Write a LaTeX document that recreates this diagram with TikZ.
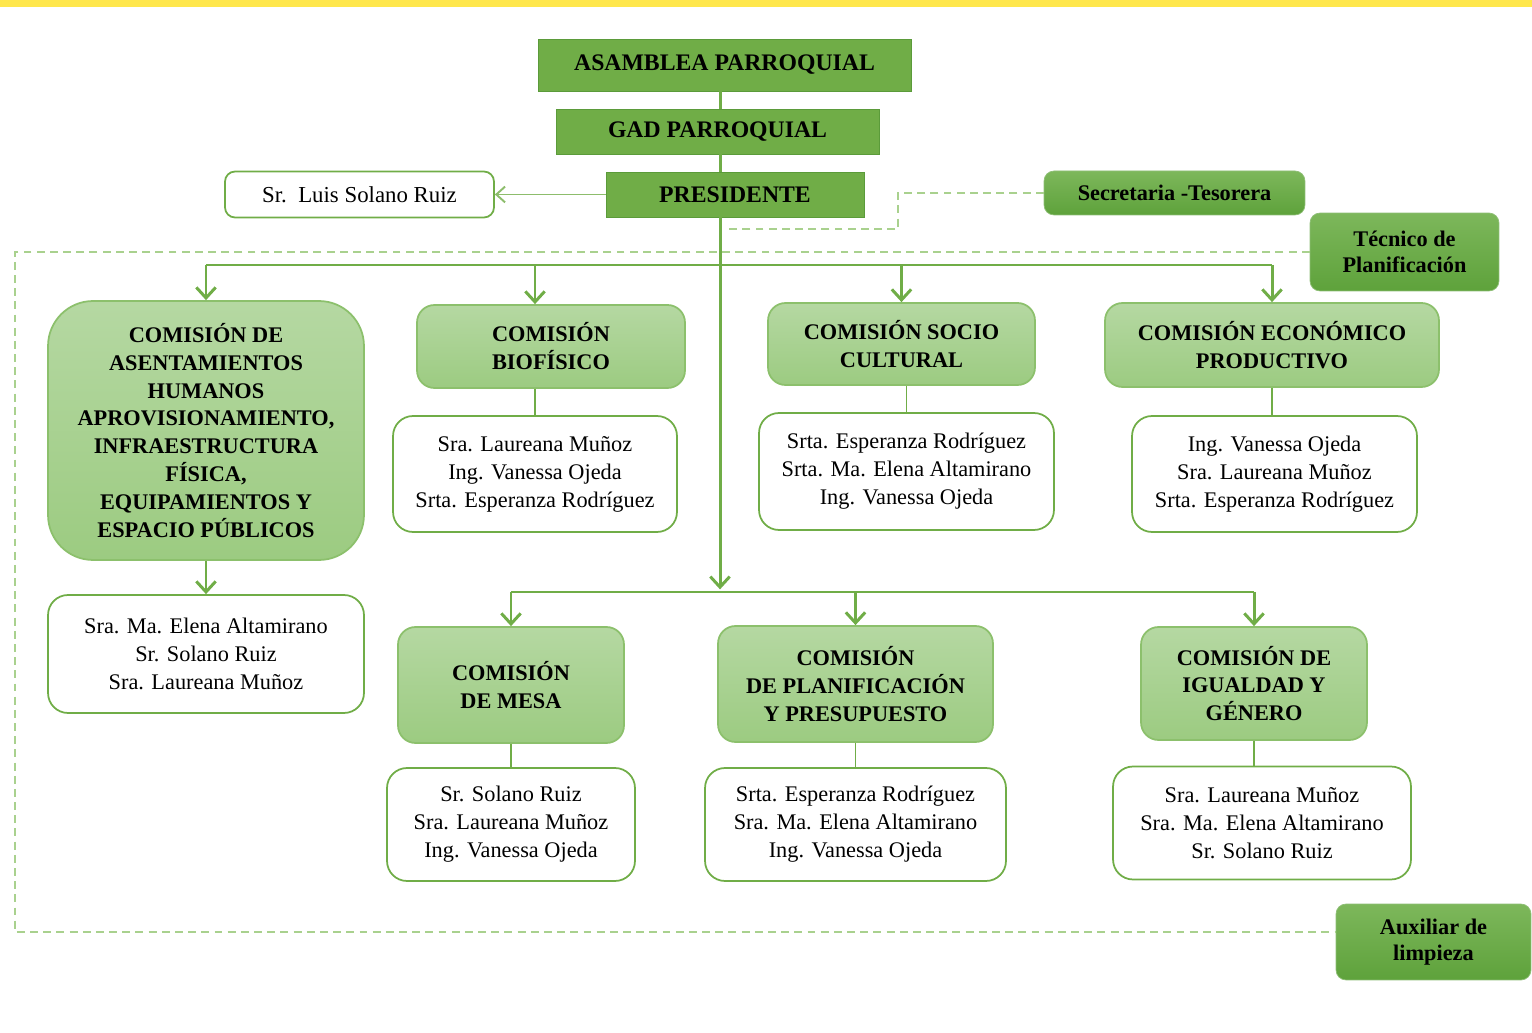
\documentclass[tikz,border=0pt]{standalone}
\usepackage{fontspec}
\setmainfont{Liberation Serif}
\usetikzlibrary{arrows.meta,positioning}
\definecolor{band}{HTML}{FFE74C}
\definecolor{leaf}{HTML}{70AD47}
\definecolor{leafdark}{HTML}{5B9B3A}
\definecolor{leaflight}{HTML}{A9D18E}
\definecolor{staffA}{HTML}{7DB75B}
\definecolor{staffB}{HTML}{5EA23B}
\definecolor{comA}{HTML}{B5D8A2}
\definecolor{comB}{HTML}{9CCB81}
\definecolor{comline}{HTML}{8CC06C}

\begin{document}
\begin{tikzpicture}[x=0.02cm, y=-0.02cm,
    txt/.style={align=center, inner sep=0pt, font=\fontsize{12.7}{15.9}\selectfont},
    headbox/.style={txt, draw=leafdark, fill=leaf, font=\fontsize{13.5}{16}\selectfont\bfseries},
    staffbox/.style={txt, rounded corners=0.2cm, top color=staffA, bottom color=staffB, draw=staffB!70, font=\fontsize{12.7}{14.5}\selectfont\bfseries},
    combox/.style={txt, rounded corners=0.35cm, top color=comA, bottom color=comB, draw=comline, line width=1pt, font=\fontsize{12.7}{15.9}\selectfont\bfseries},
    membox/.style={txt, rounded corners=0.4cm, fill=white, draw=leaf, line width=1pt},
    link/.style={draw=leaf, line width=1.7pt},
    thinlink/.style={draw=leaf, line width=1.1pt},
    arrowin/.style={-{Straight Barb[length=6pt,width=11pt]}},
    dashline/.style={draw=leaflight, line width=1.1pt, dash pattern=on 4.5pt off 3pt}]
    \useasboundingbox (0,0) rectangle (1532,1033);
    \fill[band] (0,0) rectangle (1532,7);

    % Top of the hierarchy
    \node[headbox, minimum width=7.46cm, minimum height=1.04cm] (asam) at (724.5,65) {ASAMBLEA PARROQUIAL};
    \node[headbox, minimum width=6.46cm, minimum height=0.9cm] (gad) at (717.5,131.5) {GAD PARROQUIAL};
    \node[headbox, minimum width=5.16cm, minimum height=0.9cm] (pres) at (735,194.5) {PRESIDENTE};
    \node[membox, rounded corners=0.2cm, font=\fontsize{13}{16}\selectfont, minimum width=5.38cm, minimum height=0.92cm] (luis) at (359.5,194.5) {Sr.\ \ Luis Solano Ruiz};

    % Staff
    \node[staffbox, minimum width=5.22cm, minimum height=0.88cm] (sec) at (1174.5,193) {Secretaria -Tesorera};
    \node[staffbox, minimum width=3.78cm, minimum height=1.56cm] (tec) at (1404.5,252) {Técnico de\\Planificación};
    \node[staffbox, minimum width=3.9cm, minimum height=1.52cm] (aux) at (1433.5,942) {Auxiliar de\\limpieza};

    % Commissions
    \node[combox, rounded corners=0.9cm, minimum width=6.32cm, minimum height=5.18cm] (c1) at (206,430.5)
        {COMISIÓN DE\\ASENTAMIENTOS\\HUMANOS\\APROVISIONAMIENTO,\\INFRAESTRUCTURA\\FÍSICA,\\EQUIPAMIENTOS Y\\ESPACIO PÚBLICOS};
    \node[combox, minimum width=5.36cm, minimum height=1.66cm] (c2) at (551,346.5) {COMISIÓN\\BIOFÍSICO};
    \node[combox, minimum width=5.34cm, minimum height=1.64cm] (c3) at (901.5,344) {COMISIÓN SOCIO\\CULTURAL};
    \node[combox, minimum width=6.68cm, minimum height=1.68cm] (c4) at (1272,345) {COMISIÓN ECONÓMICO\\PRODUCTIVO};
    \node[combox, minimum width=4.52cm, minimum height=2.32cm] (c5) at (511,685) {COMISIÓN\\DE MESA};
    \node[combox, minimum width=5.5cm, minimum height=2.32cm] (c6) at (855.5,684) {COMISIÓN\\DE PLANIFICACIÓN\\Y PRESUPUESTO};
    \node[combox, minimum width=4.52cm, minimum height=2.26cm] (c7) at (1254,683.5) {COMISIÓN DE\\IGUALDAD Y\\GÉNERO};

    % Members
    \node[membox, minimum width=6.32cm, minimum height=2.36cm] (m1) at (206,654) {Sra. Ma. Elena Altamirano\\Sr. Solano Ruiz\\Sra. Laureana Muñoz};
    \node[membox, minimum width=5.68cm, minimum height=2.32cm] (m2) at (535,474) {Sra. Laureana Muñoz\\Ing. Vanessa Ojeda\\Srta. Esperanza Rodríguez};
    \node[membox, minimum width=5.9cm, minimum height=2.34cm] (m3) at (906.5,471.5) {Srta. Esperanza Rodríguez\\Srta. Ma. Elena Altamirano\\Ing. Vanessa Ojeda};
    \node[membox, minimum width=5.7cm, minimum height=2.32cm] (m4) at (1274.5,474) {Ing. Vanessa Ojeda\\Sra. Laureana Muñoz\\Srta. Esperanza Rodríguez};
    \node[membox, minimum width=4.96cm, minimum height=2.26cm] (m5) at (511,824.5) {Sr. Solano Ruiz\\Sra. Laureana Muñoz\\Ing. Vanessa Ojeda};
    \node[membox, minimum width=6.02cm, minimum height=2.26cm] (m6) at (855.5,824.5) {Srta. Esperanza Rodríguez\\Sra. Ma. Elena Altamirano\\Ing. Vanessa Ojeda};
    \node[membox, minimum width=5.96cm, minimum height=2.26cm] (m7) at (1262,823) {Sra. Laureana Muñoz\\Sra. Ma. Elena Altamirano\\Sr. Solano Ruiz};

    % Trunk and buses
    \coordinate (bus1) at (720,265);
    \coordinate (bus2) at (720,592);
    \draw[link] (asam.south -| bus1) -- (gad.north -| bus1);
    \draw[link] (gad.south -| bus1) -- (pres.north -| bus1);
    \draw[link, arrowin, shorten >=1.5pt] (pres.south -| bus1) -- (bus2);
    \draw[thinlink, draw=leaf!80, -{Straight Barb[length=5pt,width=9pt]}] (pres.west) -- (luis.east);

    \draw[link] (c1.north |- bus1) -- (c4.north |- bus1);
    \foreach \n in {c1,c3,c4} {
        \draw[link, arrowin] (\n.north |- bus1) -- (\n.north);
    }
    \draw[link, arrowin] (m2.north |- bus1) -- (m2.north |- c2.north);

    \draw[link] (c5.north |- bus2) -- (c7.north |- bus2);
    \foreach \n in {c5,c6,c7} {
        \draw[link, arrowin] (\n.north |- bus2) -- (\n.north);
    }

    % Commission to members
    \draw[link, arrowin] (c1.south) -- (m1.north);
    \draw[thinlink] (c2.south -| m2) -- (m2.north);
    \draw[thinlink] (c3.south -| m3) -- (m3.north);
    \draw[thinlink] (c4.south) -- (m4.north -| c4);
    \draw[thinlink] (c5.south) -- (m5.north);
    \draw[thinlink] (c6.south) -- (m6.north);
    \draw[thinlink] (c7.south) -- (m7.north -| c7);

    % Staff lines
    \coordinate (secend) at (725,229);
    \coordinate (corner) at (15,932);
    \draw[dashline] (sec.west) -| (898,229) -- (secend);
    \draw[dashline] (tec.west) -| (corner) -- (aux.west |- corner);
\end{tikzpicture}
\end{document}
